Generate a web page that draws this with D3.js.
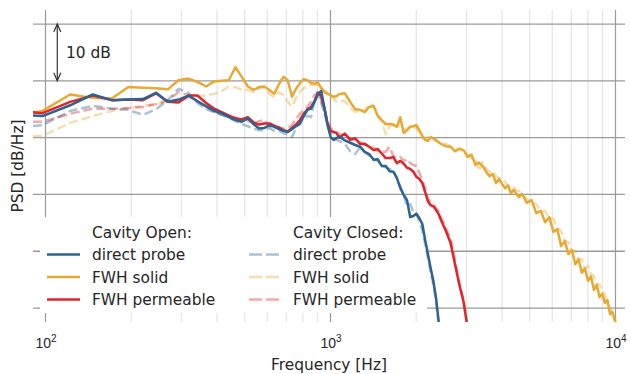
<!DOCTYPE html>
<html>
<head>
<meta charset="utf-8">
<script src="https://cdn.jsdelivr.net/npm/d3@7"></script>
<style>
  html, body { margin: 0; padding: 0; background: #fff; }
  svg { display: block; font-family: "DejaVu Sans", sans-serif; }
</style>
</head>
<body>
<svg id="chart" width="631" height="374"></svg>
<script>
// FFT resolution and the bin indices that are plotted (thinned at high frequency)
const binWidth = 24.414; // Hz
const bins = [].concat(d3.range(3, 45), d3.range(46, 101, 2), d3.range(104, 201, 4), d3.range(208, 417, 8));
const freq = bins.map(k => k * binWidth);

// PSD in dB/Hz, one value per plotted bin (series stop where they leave the view)
const openProbe = [
  84.2, 83.8, 85.7, 87.6, 86.6, 86.7, 86.8, 87.9, 86.3, 86.7, 87.4, 86.4, 85.5, 84.7, 84.3, 83.6, 83.1, 82.8, 83.4, 82.4,
  81.6, 81.7, 82.2, 81.9, 81.5, 81.2, 81.0, 81.5, 82.0, 82.4, 83.8, 84.9, 85.1, 86.3, 87.7, 88.2, 85.2, 82.2, 80.1, 79.6,
  79.9, 80.2,
  79.5, 79.1, 78.7, 78.4, 77.5, 77.1, 76.1, 76.2, 75.0, 75.0, 74.1, 74.0, 72.9, 71.1, 69.9, 69.0, 66.0, 66.2, 66.6, 65.8,
  64.8, 62.0, 59.5, 57.0, 54.8, 51.9, 47.9, 43.5
];
const openSolid = [
  83.5, 84.7, 87.6, 87.0, 86.9, 88.9, 88.8, 88.7, 88.5, 90.1, 90.4, 89.8, 89.0, 89.9, 90.0, 90.1, 92.4, 90.7, 89.0, 88.4,
  88.9, 89.0, 88.4, 87.7, 89.4, 90.7, 90.1, 87.2, 88.6, 89.6, 90.3, 90.1, 89.6, 89.5, 89.7, 88.7, 88.0, 87.7, 87.5, 87.2,
  87.3, 87.7,
  87.8, 86.3, 85.0, 84.9, 84.5, 85.4, 85.6, 83.8, 83.1, 82.4, 82.4, 82.3, 81.9, 83.6, 80.8, 81.3, 81.9, 82.0, 82.2, 81.3,
  80.3, 79.6, 79.4, 80.1, 79.9, 79.6, 79.2, 78.9,
  78.5, 78.4, 77.6, 78.0, 77.8, 76.6, 77.0, 75.2, 75.6, 75.0, 74.0, 73.2, 73.6, 72.0, 72.7, 71.8, 71.1, 71.6, 70.2, 70.8,
  70.1, 69.5, 70.1, 69.4, 68.5,
  69.0, 66.7, 67.1, 65.1, 66.0, 63.4, 63.9, 60.9, 61.8, 59.5, 60.2, 57.7, 58.6, 56.2, 57.0, 54.8, 55.6, 53.2, 54.1, 51.9,
  52.5, 50.9, 51.4, 48.9, 49.3, 47.7, 46.5
];
const openPerm = [
  84.9, 84.3, 86.3, 87.4, 86.6, 86.7, 86.6, 87.8, 86.3, 86.2, 87.4, 87.4, 86.1, 85.1, 84.5, 83.9, 83.4, 83.2, 83.6, 82.7,
  82.3, 82.5, 82.5, 82.1, 81.8, 81.3, 81.1, 81.7, 82.3, 83.1, 84.2, 85.0, 85.4, 86.4, 87.9, 87.3, 85.2, 82.4, 81.2, 81.0,
  80.8, 80.0,
  80.7, 79.6, 79.9, 78.9, 78.9, 78.4, 77.8, 78.0, 77.2, 76.4, 76.4, 76.6, 75.5, 75.9, 75.4, 74.7, 74.5, 74.0, 73.1, 72.7,
  72.0, 70.4, 68.8, 68.1, 67.9, 67.3, 66.6, 65.5,
  63.6, 61.5, 57.7, 54.1, 51.1, 46.5
];
const closedProbe = [
  81.7, 82.2, 84.7, 85.6, 85.1, 84.9, 84.0, 85.0, 86.6, 88.6, 87.9, 86.1, 85.0, 84.5, 84.0, 83.5, 82.9, 82.4, 82.0, 81.6,
  81.3, 81.3, 81.7, 81.2, 81.2, 80.8, 80.5, 80.1, 81.7, 82.9, 83.6, 83.8, 83.6, 86.4, 87.7, 86.1, 84.2, 82.4, 81.0, 80.3,
  79.6, 79.4,
  78.9, 77.6, 77.1, 78.2, 77.5, 76.8, 76.1, 75.9, 75.0, 74.8, 74.5, 74.3, 72.9, 71.5, 69.9, 67.9, 68.3, 66.9, 66.6, 65.1,
  63.7, 61.3, 58.8, 56.3, 54.2, 51.4, 47.5, 43.3
];
const closedSolid = [
  80.1, 80.3, 82.6, 83.8, 84.7, 85.2, 85.6, 85.9, 86.3, 86.6, 87.0, 87.3, 87.5, 87.7, 88.2, 89.0, 88.9, 88.4, 88.4, 88.0,
  88.7, 88.9, 87.7, 87.1, 88.0, 87.5, 86.3, 85.4, 87.0, 88.0, 88.7, 89.0, 89.4, 89.2, 89.4, 88.9, 88.4, 87.9, 87.3, 86.8,
  86.4, 86.6,
  86.4, 85.2, 84.5, 84.9, 84.7, 85.9, 85.4, 84.2, 82.8, 80.6, 82.0, 82.2, 81.7, 82.8, 81.3, 81.7, 81.9, 81.7, 81.7, 80.8,
  79.9, 79.9, 80.1, 80.3, 79.8, 79.4, 79.2, 79.2,
  78.9, 78.5, 77.8, 78.2, 77.5, 77.0, 76.4, 76.1, 74.1, 75.7, 74.6, 74.0, 74.1, 73.2, 72.9, 72.5, 72.2, 71.5, 71.1, 71.3,
  70.6, 70.6, 70.1, 69.7, 69.2,
  68.5, 68.3, 67.1, 67.1, 65.7, 65.7, 64.1, 63.6, 61.8, 61.6, 60.0, 60.0, 58.5, 58.6, 57.0, 57.4, 56.0, 55.6, 54.1, 54.2,
  53.0, 52.5, 50.5, 50.0, 48.8, 48.1, 46.8
];
const closedPerm = [
  82.8, 82.8, 84.2, 85.1, 85.1, 85.2, 85.4, 85.9, 86.6, 88.0, 87.5, 86.3, 85.6, 84.5, 84.0, 83.7, 83.5, 83.4, 83.0, 82.4,
  82.9, 83.1, 82.0, 81.9, 81.7, 81.6, 81.7, 82.2, 83.3, 84.2, 84.9, 85.4, 86.3, 87.5, 88.0, 86.6, 84.9, 82.9, 81.7, 81.3,
  81.0, 80.6,
  80.5, 79.9, 79.6, 79.2, 78.9, 78.5, 78.2, 77.6, 77.5, 77.5, 78.4, 76.8, 76.4, 76.6, 75.9, 76.2, 75.5, 75.2, 75.0, 73.8,
  72.5, 71.1, 69.2, 68.6, 68.3, 67.6, 67.1, 66.0,
  64.1, 62.3, 58.5, 54.4, 51.4, 46.8
];

// Axis ticks and labels
const xTickValues = [100, 1000, 10000];
const xTickExponents = ["2", "3", "4"];
const yGridValues = [50, 60, 70, 80, 90, 100];
const xLabel = "Frequency [Hz]";
const yLabel = "PSD [dB/Hz]";
const scaleBar = { from: 90, to: 100, freq: 110, textFreq: 118, text: "10 dB" };

const BLUE = "#2c6393", ORANGE = "#e8a932", RED = "#da262c";

const legendCols = [
  { title: "Cavity Open:", items: [
      { label: "direct probe", color: BLUE, dashed: false },
      { label: "FWH solid", color: ORANGE, dashed: false },
      { label: "FWH permeable", color: RED, dashed: false } ] },
  { title: "Cavity Closed:", items: [
      { label: "direct probe", color: BLUE, dashed: true },
      { label: "FWH solid", color: ORANGE, dashed: true },
      { label: "FWH permeable", color: RED, dashed: true } ] }
];

// drawing order: closed cavity (faded, dashed) underneath, open cavity on top
const series = [
  { values: closedSolid, color: ORANGE, dashed: true },
  { values: closedPerm,  color: RED,    dashed: true },
  { values: closedProbe, color: BLUE,   dashed: true },
  { values: openSolid,   color: ORANGE, dashed: false },
  { values: openPerm,    color: RED,    dashed: false },
  { values: openProbe,   color: BLUE,   dashed: false }
];

const plot = { left: 33, right: 625, top: 10, bottom: 322 };
const svg = d3.select("#chart");

const x = d3.scaleLog().domain([90.4, 10798]).range([plot.left, plot.right]);
const y = d3.scaleLinear().domain([47.54, 102.47]).range([plot.bottom, plot.top]);

svg.append("defs").append("clipPath").attr("id", "plotClip")
  .append("rect")
  .attr("x", plot.left).attr("y", plot.top)
  .attr("width", plot.right - plot.left).attr("height", plot.bottom - plot.top);

// grid
const grid = svg.append("g");
const minorTicks = x.ticks().filter(v => v > x.domain()[0] && v < x.domain()[1] && !xTickValues.includes(v));
grid.selectAll("line.minor").data(minorTicks).join("line")
  .attr("x1", d => x(d)).attr("x2", d => x(d))
  .attr("y1", plot.top).attr("y2", plot.bottom)
  .attr("stroke", "#e6e6e6").attr("stroke-width", 1.3);
grid.selectAll("line.major").data(xTickValues).join("line")
  .attr("x1", d => x(d)).attr("x2", d => x(d))
  .attr("y1", plot.top).attr("y2", plot.bottom)
  .attr("stroke", "#9a9a9a").attr("stroke-width", 1.2);
grid.selectAll("line.h").data(yGridValues).join("line")
  .attr("x1", plot.left).attr("x2", plot.right)
  .attr("y1", d => y(d)).attr("y2", d => y(d))
  .attr("stroke", "#9a9a9a").attr("stroke-width", 1.3);

// legend background sits over the grid but under the spectra
const lg = svg.append("g");
lg.append("rect").attr("x", 40).attr("y", 217).attr("width", 387).attr("height", 96)
  .attr("rx", 3).attr("fill", "#fff");

// spectra
const line = d3.line().x((d, i) => x(freq[i])).y(d => y(d));
svg.append("g").attr("clip-path", "url(#plotClip)")
  .selectAll("path").data(series).join("path")
  .attr("d", d => line(d.values))
  .attr("fill", "none")
  .attr("stroke", d => d.color)
  .attr("stroke-width", 2.5)
  .attr("stroke-linejoin", "round")
  .attr("stroke-opacity", d => d.dashed ? 0.4 : 1)
  .attr("stroke-dasharray", d => d.dashed ? "9,4" : null);

// 10 dB scale bar
const ax = x(scaleBar.freq), yTop = y(scaleBar.to), yBot = y(scaleBar.from);
const bar = svg.append("g").attr("stroke", "#333").attr("stroke-width", 1.2).attr("fill", "none");
bar.append("path").attr("d", `M${ax},${yTop}L${ax},${yBot}`);
bar.append("path").attr("d", `M${ax - 3.5},${yTop + 8}L${ax},${yTop}L${ax + 3.5},${yTop + 8}`);
bar.append("path").attr("d", `M${ax - 3.5},${yBot - 8}L${ax},${yBot}L${ax + 3.5},${yBot - 8}`);
svg.append("text")
  .attr("x", x(scaleBar.textFreq)).attr("y", y((scaleBar.from + scaleBar.to) / 2))
  .attr("dy", "0.36em")
  .attr("font-size", 15.4).attr("fill", "#262626")
  .text(scaleBar.text);

// legend entries
const lgItems = svg.append("g");
const colX = [{ h: 47, t: 92 }, { h: 249, t: 293 }];
const rowY = [232, 254.5, 277, 299.5];
legendCols.forEach((col, ci) => {
  lgItems.append("text").attr("x", colX[ci].t).attr("y", rowY[0]).attr("dy", "0.36em")
    .attr("font-size", 15.4).attr("fill", "#262626").text(col.title);
  col.items.forEach((it, ri) => {
    lgItems.append("line")
      .attr("x1", colX[ci].h).attr("x2", colX[ci].h + (it.dashed ? 30 : 33))
      .attr("y1", rowY[ri + 1]).attr("y2", rowY[ri + 1])
      .attr("stroke", it.color).attr("stroke-width", 2.5)
      .attr("stroke-opacity", it.dashed ? 0.4 : 1)
      .attr("stroke-dasharray", it.dashed ? "13,4" : null);
    lgItems.append("text").attr("x", colX[ci].t).attr("y", rowY[ri + 1]).attr("dy", "0.36em")
      .attr("font-size", 15.4).attr("fill", "#262626").text(it.label);
  });
});

// x tick labels (powers of ten)
const xAxis = d3.axisBottom(x).tickValues(xTickValues).tickSize(0).tickPadding(0).tickFormat(() => "");
const gx = svg.append("g").attr("transform", `translate(0,${plot.bottom})`).call(xAxis);
gx.select(".domain").remove();
gx.selectAll(".tick text").remove();
gx.selectAll(".tick").append("text")
  .attr("y", 26).attr("x", 0)
  .attr("text-anchor", "middle")
  .attr("fill", "#262626")
  .attr("font-size", 14)
  .each(function (d, i) {
    const t = d3.select(this);
    t.append("tspan").text("10");
    t.append("tspan").attr("font-size", 10).attr("dy", -6).text(xTickExponents[i]);
  });

// axis titles
svg.append("text").attr("x", (plot.left + plot.right) / 2).attr("y", 370)
  .attr("text-anchor", "middle").attr("font-size", 15.4).attr("fill", "#262626").text(xLabel);
svg.append("text")
  .attr("transform", `translate(17.5,${(plot.top + plot.bottom) / 2}) rotate(-90)`)
  .attr("text-anchor", "middle").attr("dy", "0.36em")
  .attr("font-size", 15.4).attr("fill", "#262626").text(yLabel);
</script>
</body>
</html>
